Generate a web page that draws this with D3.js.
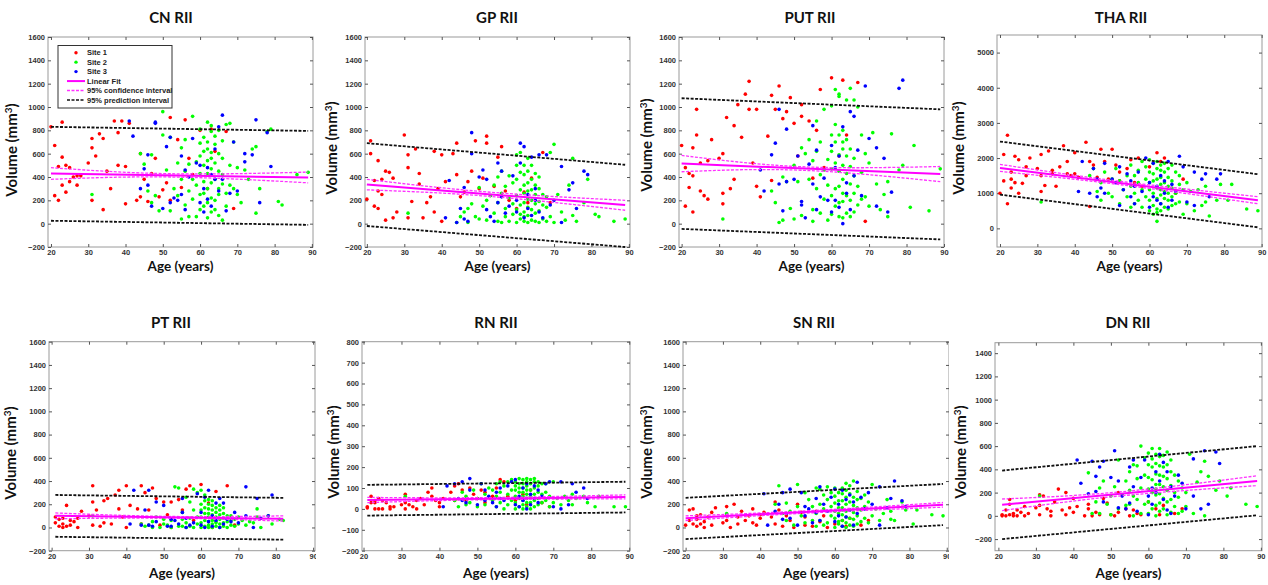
<!DOCTYPE html>
<html lang="en">
<head>
<meta charset="UTF-8">
<title>RII volume vs age</title>
<script src="https://cdn.jsdelivr.net/npm/d3@7"></script>
<style>
  body { margin: 0; background: #fff; }
  .tick text { font-family: "Liberation Sans", Arial, sans-serif; font-size: 7.5px; font-weight: bold; fill: #333; }
  .tick line { stroke: #555; }
</style>
</head>
<body>
<script>
// ages of subjects for each site (shared by all structures)
const site1Age = [
  20,21,21,22,22,23,23,23,24,24,
  25,25,26,27,27,28,30,31,31,31,
  32,33,34,34,35,36,37,38,38,39,
  40,40,41,43,44,44,45,46,47,48,
  49,50,51,52,52,54,55,56,57,58,
  60,62,63,64,67,69
];
const site2Age = [
  31,44,45,46,47,47,48,49,50,50,
  51,52,52,53,54,54,55,55,55,56,
  56,56,57,57,57,58,58,58,59,59,
  59,60,60,60,60,60,60,61,61,61,
  61,61,61,62,62,62,62,62,62,62,
  62,63,63,63,63,63,63,63,63,64,
  64,64,64,64,64,65,65,65,65,65,
  65,66,66,66,66,66,67,67,67,68,
  68,68,69,69,70,70,71,72,73,74,
  75,75,76,78,79,81,82,86,89
];
const site3Age = [
  41,42,44,45,46,46,47,48,48,50,
  51,52,52,53,54,55,55,56,56,57,
  58,59,60,60,61,61,62,62,63,63,
  64,64,65,65,66,66,67,68,69,70,
  72,72,74,75,76,78,79
];

// CN
const cnSite1 = [830,670,240,490,200,870,570,330,500,270, 480,360,400,330,410,410,520,730,650,200, 580,770,730,120,450,300,880,780,500,880, 490,170,860,200,600,230,380,190,430,560, 230,290,350,910,200,720,310,890,560,420, 800,300,810,620,790,130];
const cnSite2 = [250,600,510,280,590,180,240,110,960,760, 460,110,740,300,520,240,40,650,380,160, 450,720,60,280,510,920,380,210,60,530, 330,120,690,430,250,580,810,260,740,500, 150,360,620,50,870,700,430,300,540,180, 640,100,610,790,350,470,220,840,560,200, 380,680,520,120,750,70,300,600,450,800, 250,30,560,420,710,340,850,260,150,860, 500,330,300,700,480,250,180,460,380,640, 660,90,300,790,810,190,160,420,440];
const cnSite3 = [880,750,300,470,590,330,150,870,860,130, 660,740,180,220,200,580,250,460,120,400, 730,520,500,180,300,100,210,480,420,150, 640,380,830,280,930,380,110,260,700,280, 600,530,590,890,180,780,490];
// GP
const gpSite1 = [210,710,600,150,370,540,130,280,380,250, 450,30,440,50,390,100,760,590,480,50, 190,640,430,340,50,180,230,620,100,300, 590,20,360,600,690,420,230,270,360,450, 710,300,390,750,690,320,570,660,280,200, 130,270,180,390,610,180];
const gpSite2 = [90,10,60,100,10,130,170,60,40,310, 150,30,200,240,330,90,20,180,400,10, 260,450,60,130,320,20,220,410,80,170, 350,10,120,240,380,500,590,40,160,290, 440,80,610,20,100,180,260,330,420,500, 60,10,70,140,210,280,350,450,560,30, 120,200,290,380,500,20,90,170,250,330, 430,10,110,190,300,400,40,160,250,20, 140,230,60,610,10,680,250,100,30,330, 560,70,20,180,380,80,60,20,40];
const gpSite3 = [50,370,10,130,40,310,20,780,600,400, 460,120,380,60,20,520,180,230,450,90, 150,410,100,200,690,520,660,50,250,130, 570,70,200,300,590,100,50,590,160,200, 490,10,290,350,130,450,420];
// PUT
const putSite1 = [670,480,150,310,430,650,100,410,980,760, 520,280,240,540,210,720,560,260,170,600, 910,300,840,380,1020,740,1110,1220,980,520, 980,320,230,750,1100,370,980,1180,900,960, 1080,860,580,920,1020,880,390,800,1150,480, 1250,580,1230,760,1210,20];
const putSite2 = [40,280,180,10,30,400,360,130,40,500, 360,70,650,600,380,720,20,120,540,300, 620,880,90,420,700,210,460,980,30,550, 330,80,240,470,620,1010,760,150,300,1150, 520,700,850,60,180,320,450,590,1110,760, 1090,50,190,260,380,500,640,800,700,90, 240,430,580,720,1060,60,200,340,490,1160, 640,100,260,410,560,1060,160,320,1000,210, 440,760,230,600,150,520,780,340,120,250, 60,360,770,460,500,140,670,110,470];
const putSite3 = [460,280,590,690,340,980,110,810,360,380, 580,190,160,50,510,840,340,120,630,230, 390,200,670,100,480,200,580,140,0,830, 350,260,960,120,920,410,630,240,1180,730, 650,150,560,100,270,1160,1230];
// THA
const thaSite1 = [1000,2100,1350,2650,700,1400,1150,1600,2050,1300, 1950,1000,1280,1750,1500,2000,1700,2100,1050,1500, 1220,2200,1650,1550,1200,1750,2350,1900,1550,1500, 2150,1550,1450,2450,620,1900,1800,1450,2250,1900, 1400,2250,1800,1600,1350,1700,1950,1300,2000,1200, 1750,2150,1900,2000,1000,1400];
const thaSite2 = [750,1500,1700,1050,800,1300,1600,1000,1400,900, 1700,700,1350,1100,1500,900,1800,1200,600,1500, 1000,700,1650,1300,800,1900,1100,600,1400,900, 1750,500,800,1100,1300,1600,1950,650,1000,1350, 1550,1850,400,200,550,850,1150,1400,1700,1900, 450,500,700,950,1100,1250,1450,1650,1800,600, 850,1050,1300,1600,1850,550,800,1000,1200,1450, 1700,650,900,1150,1350,1800,700,1000,1600,750, 1250,1500,400,1100,700,1300,1050,500,1100,650, 1200,750,350,800,1250,800,1250,550,500];
const thaSite3 = [1050,1900,1000,1700,900,1400,1150,1850,1000,1400, 1300,650,1750,1100,1550,900,1350,1200,700,1600, 1050,2000,600,1300,1850,900,1200,800,1500,700, 1000,1350,1900,600,1250,800,1050,2050,1750,750, 1600,650,1400,1550,900,1400,1550];
// PT
const ptSite1 = [null,90,40,10,70,30,0,80,190,10, 60,20,50,0,80,140,100,360,220,20, 150,10,230,40,250,30,280,320,160,90, 360,0,190,160,360,30,300,150,340,250, 20,220,110,220,0,240,150,330,360,60, 370,210,0,310,360,20];
const ptSite2 = [100,30,10,20,50,0,90,0,30,70, 20,0,60,350,10,340,10,70,130,0, 40,260,10,80,220,0,150,330,30,90, 300,0,40,90,150,200,320,10,60,120, 170,230,280,0,20,50,90,120,160,200, 240,0,30,60,80,110,150,190,230,10, 50,90,130,170,40,0,30,70,110,150, 190,10,40,80,120,170,0,50,100,20, 60,100,10,70,30,90,60,20,50,40, 160,90,0,100,30,70,60,null,null];
const ptSite3 = [30,320,20,150,320,20,10,220,50,190, 10,70,10,60,30,250,130,0,80,20, 40,290,130,20,260,0,320,50,100,10, 210,60,250,0,210,30,70,50,130,40, 350,100,0,250,80,100,280];
// RN
const rnSite1 = [null,10,5,60,30,0,40,30,0,50, 0,40,30,10,0,10,20,70,0,30, 20,10,0,40,50,20,80,100,60,40, 30,10,50,80,110,40,120,90,40,100, 70,50,90,30,80,60,100,140,130,60, 40,70,20,90,30,10];
const rnSite2 = [60,40,10,80,20,60,30,90,10,50, 120,20,70,100,40,90,10,60,120,30, 80,130,0,50,110,20,70,130,40,90, 140,0,30,60,90,110,130,10,50,80, 100,120,145,0,20,40,60,80,100,120, 140,10,30,50,70,90,110,130,145,0, 30,60,90,120,140,10,40,70,100,130, 145,20,50,80,110,130,30,70,120,40, 80,120,10,60,30,130,50,20,60,40, 70,20,50,60,30,10,60,10,10];
const rnSite3 = [10,110,120,50,40,130,30,145,90,20, 120,40,90,60,30,80,10,50,100,40, 110,130,20,140,60,10,100,40,120,0, 70,20,50,110,90,30,60,120,130,10, 130,0,20,120,80,100,50];
// SN
const snSite1 = [20,150,60,160,30,100,10,70,30,110, 50,0,90,130,20,170,40,180,100,60, 0,200,90,30,140,60,100,160,40,20, 80,110,130,90,220,30,150,10,100,60, 0,200,130,20,90,10,140,50,100,0, 30,60,10,80,20,60];
const snSite2 = [120,200,360,120,210,60,140,20,370,180, 100,300,40,240,60,180,10,120,340,60, 200,330,20,160,280,40,240,350,100,300, 180,0,80,140,210,270,340,30,120,230, 300,50,170,10,60,110,170,230,290,340, 150,0,40,90,140,200,260,320,380,20, 80,150,220,290,360,10,70,130,190,400, 260,30,100,170,240,310,50,150,250,80, 180,280,40,220,100,370,160,60,120,240, 140,70,60,220,150,30,150,110,100];
const snSite3 = [290,20,140,200,300,70,120,330,80,20, 300,180,100,160,40,250,130,350,60,200, 140,260,50,330,200,100,320,10,240,90, 280,150,220,20,390,120,260,160,300,200, 350,20,170,250,400,230,180];
// DN
const dnSite1 = [null,10,0,0,50,140,10,100,20,0, 50,0,30,0,80,20,70,180,10,90, 170,60,40,0,120,230,50,200,10,70, 30,150,80,0,100,60,0,30,10,150, 110,10,0,200,30,60,0,50,20,10, 120,60,10,90,20,60];
const dnSite2 = [170,370,20,120,240,20,300,100,170,10, 250,480,60,180,300,90,100,380,220,440, 0,170,320,140,430,600,240,20,500,100, 350,20,120,230,330,440,540,60,200,580, 310,420,490,0,90,180,270,360,450,530, 230,40,110,190,270,350,430,510,580,60, 150,250,340,420,520,10,120,220,320,440, 550,30,140,260,380,480,80,200,350,20, 160,300,40,240,80,200,530,20,290,380, 0,470,340,220,300,170,240,100,80];
const dnSite3 = [480,280,190,470,340,210,420,470,120,330, 560,300,70,170,60,420,110,480,250,40, 330,480,10,170,240,100,380,200,530,300, 140,460,50,380,20,250,170,350,280,60, 490,170,60,560,100,550,450];

const panelNames = ["CN RII", "GP RII", "PUT RII", "THA RII", "PT RII", "RN RII", "SN RII", "DN RII"];

// regression lines: [first age, last age]; fit at both ends; intervals at start / age 52 / end
const lineAgeRange = [[20,89],[20,89],[20,89],[20,89],[21,82],[21,89],[20,89],[21,89]];
const ciMidAge = 52;
const fitVals = [[430,395],[335,160],[515,425],[1720,800],[100,75],[42,57],[80,195],[95,300]];
const ciUpper = [[480,428,442],[380,272,200],[585,488,490],[1820,1340,900],[125,95,100],[55,54,67],[100,143,215],[145,205,345]];
const ciLower = [[380,400,350],[290,236,115],[445,458,360],[1620,1245,700],[75,80,55],[30,44,48],[60,123,175],[45,170,260]];
const piUpper = [[830,795],[690,505],[1075,980],[2470,1540],[280,255],[115,130],[255,375],[390,600]];
const piLower = [[25,-10],[-20,-200],[-45,-135],[960,30],[-80,-105],[-32,-17],[-100,20],[-200,5]];

const ageTicks = [20,30,40,50,60,70,80,90];
const volTicks = [-200,0,200,400,600,800,1000,1200,1400,1600];
const thaTicks = [0,1000,2000,3000,4000,5000];
const rnTicks = [-200,-100,0,100,200,300,400,500,600,700,800];
const dnTicks = [-200,0,200,400,600,800,1000,1200,1400];

const legendLabels = ["Site 1", "Site 2", "Site 3", "Linear Fit", "95% confidence interval", "95% prediction interval"];
const siteColors = ["#ff0000", "#00ff00", "#0000ff"];

// panel setup (layout only)
const panels = [
  {sites:[cnSite1,cnSite2,cnSite3],    yd:[-200,1600], yt:volTicks, l:48,  r:313,  t:37,    b:247,   xd:[19.2,90.3], tx:171,  ylx:17,  yly:150, clip:[0,320]},
  {sites:[gpSite1,gpSite2,gpSite3],    yd:[-200,1600], yt:volTicks, l:365, r:630,  t:37,    b:247,   xd:[19.5,90.3], tx:497,  ylx:337, yly:148, clip:[320,640]},
  {sites:[putSite1,putSite2,putSite3], yd:[-200,1600], yt:volTicks, l:679, r:944,  t:37,    b:247,   xd:[19.3,90],   tx:810,  ylx:652, yly:145, clip:[640,950]},
  {sites:[thaSite1,thaSite2,thaSite3], yd:[-530,5500], yt:thaTicks, l:997, r:1262, t:35,    b:247,   xd:[19.2,90.1], tx:1121, ylx:964, yly:148, clip:[950,1268]},
  {sites:[ptSite1,ptSite2,ptSite3],    yd:[-200,1600], yt:volTicks, l:49,  r:315,  t:341.7, b:550.7, xd:[19.3,90.5], tx:171,  ylx:16,  yly:453, clip:[0,316]},
  {sites:[rnSite1,rnSite2,rnSite3],    yd:[-200,800],  yt:rnTicks,  l:362, r:630,  t:341.7, b:550.7, xd:[19.6,90.2], tx:496,  ylx:339, yly:452, clip:[320,640]},
  {sites:[snSite1,snSite2,snSite3],    yd:[-200,1600], yt:volTicks, l:683, r:949,  t:341.7, b:550.7, xd:[19.3,90.6], tx:814,  ylx:652, yly:452, clip:[640,949]},
  {sites:[dnSite1,dnSite2,dnSite3],    yd:[-300,1490], yt:dnTicks,  l:995, r:1262, t:342.7, b:550.7, xd:[19.1,90.3], tx:1128, ylx:966, yly:452, clip:[950,1268]}
];

const svg = d3.select("body").append("svg")
  .attr("width", 1268).attr("height", 585)
  .style("background", "#fff");
const defs = svg.append("defs");
const labelFont = "Lato, 'Open Sans', sans-serif";
const siteAges = [site1Age, site2Age, site3Age];
const fmt = d3.format("d");

panels.forEach(function (p, i) {
  defs.append("clipPath").attr("id", "clip" + i)
    .append("rect").attr("x", p.clip[0]).attr("y", 0)
    .attr("width", p.clip[1] - p.clip[0]).attr("height", 585);
  const g = svg.append("g").attr("clip-path", "url(#clip" + i + ")");
  const x = d3.scaleLinear().domain(p.xd).range([p.l, p.r]);
  const y = d3.scaleLinear().domain(p.yd).range([p.b, p.t]);
  const row2 = i >= 4;

  // axes box with inward ticks on all sides
  g.append("rect").attr("x", p.l).attr("y", p.t)
    .attr("width", p.r - p.l).attr("height", p.b - p.t)
    .attr("fill", "#fff").attr("stroke", "#9a9a9a").attr("stroke-width", 1);
  g.append("g").attr("transform", `translate(0,${p.b})`)
    .call(d3.axisBottom(x).tickValues(ageTicks).tickFormat(fmt).tickSize(-3).tickPadding(2.5))
    .call(a => a.select(".domain").remove());
  g.append("g").attr("transform", `translate(0,${p.t})`)
    .call(d3.axisTop(x).tickValues(ageTicks).tickSize(-3).tickFormat(""))
    .call(a => a.select(".domain").remove());
  g.append("g").attr("transform", `translate(${p.l},0)`)
    .call(d3.axisLeft(y).tickValues(p.yt).tickFormat(fmt).tickSize(-3).tickPadding(3))
    .call(a => a.select(".domain").remove());
  g.append("g").attr("transform", `translate(${p.r},0)`)
    .call(d3.axisRight(y).tickValues(p.yt).tickSize(-3).tickFormat(""))
    .call(a => a.select(".domain").remove());

  // scatter points
  const plot = g.append("g");
  p.sites.forEach(function (vals, k) {
    const pts = vals.map((v, j) => [siteAges[k][j], v]).filter(d => d[1] != null);
    plot.selectAll(null).data(pts).join("circle")
      .attr("cx", d => x(d[0])).attr("cy", d => y(d[1]))
      .attr("r", 1.8).attr("fill", siteColors[k]);
  });

  // fit, confidence and prediction intervals
  const line = d3.line().x(d => x(d[0])).y(d => y(d[1]));
  const curve = d3.line().x(d => x(d[0])).y(d => y(d[1])).curve(d3.curveNatural);
  const a0 = lineAgeRange[i][0], a1 = lineAgeRange[i][1];
  [ciUpper[i], ciLower[i]].forEach(function (c) {
    plot.append("path").datum([[a0, c[0]], [ciMidAge, c[1]], [a1, c[2]]])
      .attr("d", curve).attr("fill", "none")
      .attr("stroke", "#ff33ff").attr("stroke-width", 1.3).attr("stroke-dasharray", "3,1.5");
  });
  plot.append("path").datum([[a0, fitVals[i][0]], [a1, fitVals[i][1]]])
    .attr("d", line).attr("fill", "none").attr("stroke", "#ff00ff").attr("stroke-width", 2);
  [piUpper[i], piLower[i]].forEach(function (c) {
    plot.append("path").datum([[a0, c[0]], [a1, c[1]]])
      .attr("d", line).attr("fill", "none")
      .attr("stroke", "#111").attr("stroke-width", 1.8).attr("stroke-dasharray", "3,1.5");
  });

  // labels
  g.append("text").attr("x", p.tx).attr("y", row2 ? 328 : 23)
    .attr("text-anchor", "middle").attr("font-family", labelFont)
    .attr("font-weight", "bold").attr("font-size", 15).attr("fill", "#111")
    .text(panelNames[i]);
  g.append("text").attr("x", (p.l + p.r) / 2).attr("y", row2 ? 578 : 271)
    .attr("text-anchor", "middle").attr("font-family", labelFont)
    .attr("font-weight", "bold").attr("font-size", 13.5).attr("fill", "#111")
    .text("Age (years)");
  const yl = g.append("text")
    .attr("transform", `translate(${p.ylx},${p.yly}) rotate(-90)`)
    .attr("text-anchor", "middle").attr("font-family", labelFont)
    .attr("font-weight", "bold").attr("font-size", 15).attr("fill", "#111");
  yl.append("tspan").text("Volume (mm");
  yl.append("tspan").attr("dy", -5).attr("font-size", 10).text("3");
  yl.append("tspan").attr("dy", 5).text(")");
});

// legend in first panel
const lg = svg.append("g");
lg.append("rect").attr("x", 58).attr("y", 45.5).attr("width", 114).attr("height", 62.5)
  .attr("fill", "#fff").attr("stroke", "#333").attr("stroke-width", 1);
legendLabels.forEach(function (name, k) {
  const ly = 52.7 + k * 9.46;
  if (k < 3) {
    lg.append("circle").attr("cx", 76).attr("cy", ly).attr("r", 1.7).attr("fill", siteColors[k]);
  } else {
    lg.append("line").attr("x1", 67).attr("x2", 85).attr("y1", ly).attr("y2", ly)
      .attr("stroke", k === 5 ? "#111" : (k === 3 ? "#ff00ff" : "#ff33ff"))
      .attr("stroke-width", k === 3 ? 2 : 1.5)
      .attr("stroke-dasharray", k === 3 ? null : "3,1.5");
  }
  lg.append("text").attr("x", 87).attr("y", ly + 2.7)
    .attr("font-family", "'Liberation Sans', Arial, sans-serif").attr("font-weight", "bold")
    .attr("font-size", 7.5).attr("fill", "#222").text(name);
});
</script>
</body>
</html>
